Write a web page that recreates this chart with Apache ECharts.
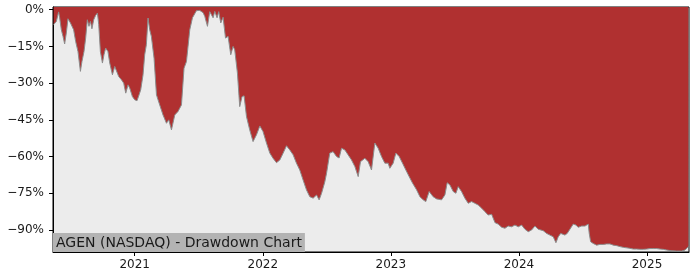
<!DOCTYPE html>
<html>
<head>
<meta charset="utf-8">
<script src="https://cdn.jsdelivr.net/npm/echarts@6/dist/echarts.min.js"></script>
<style>
html,body{margin:0;padding:0;background:#fff;}
#c{width:700px;height:280px;}
</style>
</head>
<body>
<div id="c"></div>
<script>
// Dates as decimal years
const dates = [
2020.367,2020.388,2020.406,2020.414,2020.427,2020.440,2020.453,2020.466,2020.479,2020.498,
2020.513,2020.523,2020.539,2020.557,2020.576,2020.588,2020.604,2020.617,2020.630,2020.643,
2020.654,2020.666,2020.680,2020.695,2020.709,2020.719,2020.732,2020.748,2020.760,2020.773,
2020.791,2020.805,2020.826,2020.844,2020.857,2020.875,2020.896,2020.914,2020.930,2020.948,
2020.961,2020.982,2021.000,2021.018,2021.034,2021.047,2021.065,2021.078,2021.091,2021.104,
2021.117,2021.130,2021.151,2021.170,2021.182,2021.195,2021.221,2021.248,2021.266,2021.287,
2021.295,2021.313,2021.338,2021.365,2021.385,2021.404,2021.416,2021.430,2021.451,2021.482,
2021.508,2021.534,2021.547,2021.568,2021.586,2021.612,2021.625,2021.643,2021.656,2021.672,
2021.690,2021.709,2021.729,2021.750,2021.768,2021.781,2021.802,2021.820,2021.838,2021.854,
2021.873,2021.898,2021.924,2021.951,2021.977,2022.002,2022.029,2022.055,2022.080,2022.107,
2022.133,2022.159,2022.185,2022.211,2022.237,2022.263,2022.289,2022.315,2022.341,2022.367,
2022.393,2022.420,2022.440,2022.459,2022.484,2022.498,2022.523,2022.549,2022.576,2022.596,
2022.615,2022.641,2022.666,2022.693,2022.719,2022.745,2022.763,2022.797,2022.823,2022.849,
2022.875,2022.901,2022.927,2022.953,2022.979,2022.992,2023.018,2023.039,2023.065,2023.091,
2023.117,2023.143,2023.170,2023.201,2023.227,2023.252,2023.273,2023.299,2023.330,2023.357,
2023.396,2023.422,2023.440,2023.461,2023.487,2023.508,2023.526,2023.552,2023.578,2023.604,
2023.630,2023.656,2023.682,2023.709,2023.734,2023.760,2023.787,2023.813,2023.838,2023.865,
2023.891,2023.916,2023.943,2023.969,2023.995,2024.021,2024.047,2024.073,2024.099,2024.125,
2024.151,2024.164,2024.190,2024.216,2024.242,2024.268,2024.289,2024.307,2024.326,2024.341,
2024.359,2024.377,2024.398,2024.424,2024.445,2024.463,2024.490,2024.516,2024.541,2024.549,
2024.560,2024.580,2024.607,2024.633,2024.659,2024.685,2024.711,2024.737,2024.763,2024.789,
2024.815,2024.841,2024.867,2024.893,2024.920,2024.945,2024.971,2024.998,2025.023,2025.049,
2025.076,2025.102,2025.127,2025.154,2025.193,2025.232,2025.271,2025.297,2025.310,2025.323
];
// Drawdown in percent
const drawdown = [
-6.1,-4.8,-0.9,-3.3,-8.2,-10.9,-14.0,-9.5,-3.7,-5.4,
-5.9,-8.2,-13.0,-17.1,-25.2,-21.2,-17.1,-11.6,-4.1,-6.8,
-4.8,-7.8,-4.1,-2.3,-1.4,-6.1,-17.1,-21.8,-18.4,-15.7,
-17.1,-21.8,-26.6,-23.2,-23.9,-27.3,-28.6,-30.0,-34.1,-30.7,
-32.0,-35.5,-36.8,-37.2,-34.8,-32.7,-26.6,-18.4,-14.3,-3.4,
-8.2,-10.9,-19.8,-34.8,-36.8,-37.5,-43.0,-46.4,-45.0,-49.1,
-49.5,-43.0,-41.6,-38.9,-23.9,-21.2,-20.5,-8.2,-3.3,-0.4,
-0.3,-1.2,-2.7,-6.8,-0.8,-3.3,-0.7,-3.3,-0.8,-5.4,
-3.1,-11.6,-10.9,-18.4,-15.0,-16.4,-25.9,-39.6,-35.5,-35.2,
-43.7,-49.1,-53.9,-51.1,-47.5,-49.8,-54.5,-58.6,-60.7,-62.5,
-61.4,-58.6,-55.6,-57.3,-59.3,-62.7,-65.5,-69.6,-73.6,-76.4,
-77.0,-75.7,-77.7,-75.0,-70.4,-66.8,-58.6,-58.0,-60.0,-60.6,
-56.6,-57.3,-59.3,-61.4,-64.1,-68.2,-62.1,-60.7,-62.1,-65.5,
-54.5,-56.6,-60.0,-62.7,-62.7,-64.8,-62.7,-58.6,-60.0,-62.7,
-65.5,-68.2,-70.9,-73.6,-76.4,-77.7,-78.4,-74.3,-76.4,-77.3,
-77.7,-75.7,-70.7,-71.6,-74.3,-75.0,-72.3,-74.3,-77.0,-79.1,
-78.4,-79.1,-79.8,-81.1,-82.5,-83.9,-83.6,-87.0,-87.6,-88.9,
-89.3,-88.4,-88.7,-88.0,-88.7,-88.0,-89.7,-90.7,-90.0,-88.4,
-89.7,-89.7,-90.3,-91.4,-92.1,-92.8,-95.2,-92.8,-91.4,-90.7,
-92.1,-91.4,-89.7,-87.6,-88.0,-88.9,-88.4,-88.4,-87.6,-91.4,
-94.8,-95.5,-96.2,-95.9,-95.9,-95.7,-95.7,-96.2,-96.4,-96.8,
-97.1,-97.3,-97.5,-97.8,-97.8,-97.9,-97.9,-97.8,-97.6,-97.6,
-97.6,-97.8,-97.9,-98.2,-98.5,-98.6,-98.6,-98.2,-97.5,-96.8
];
const yTicks = [0, -15, -30, -45, -60, -75, -90];
const xTickYears = [2021, 2022, 2023, 2024, 2025];
const titleText = 'AGEN (NASDAQ) - Drawdown Chart';

const seriesData = dates.map((d, i) => [d, drawdown[i]]);

const FONT = 'DejaVu Sans';
const chart = echarts.init(document.getElementById('c'), null, {renderer: 'canvas'});
chart.setOption({
  animation: false,
  backgroundColor: '#ffffff',
  title: {
    text: titleText,
    left: 53, top: 233,
    padding: [3, 3, 2, 3],
    backgroundColor: '#b3b3b3',
    textStyle: {fontFamily: FONT, fontSize: 14, fontWeight: 'normal', color: '#1a1a1a', lineHeight: 14}
  },
  grid: {
    left: 53, right: 11, top: 7, bottom: 28,
    show: true, backgroundColor: '#ececec', borderColor: '#000', borderWidth: 1
  },
  xAxis: {
    type: 'value',
    min: 2020.362,
    max: 2025.328,
    splitLine: {show: false},
    axisLine: {show: true, onZero: false, lineStyle: {color: '#000', width: 1}},
    axisTick: {show: true, length: 4, lineStyle: {color: '#000'}, customValues: xTickYears},
    axisLabel: {
      customValues: xTickYears,
      margin: 7,
      fontFamily: FONT, fontSize: 12, color: '#1a1a1a',
      formatter: v => String(Math.round(v))
    }
  },
  yAxis: {
    type: 'value',
    min: -99,
    max: 1.1,
    splitLine: {show: false},
    axisLine: {show: true, lineStyle: {color: '#000', width: 1}},
    axisTick: {show: true, length: 4, lineStyle: {color: '#000'}, customValues: yTicks},
    axisLabel: {
      customValues: yTicks,
      margin: 9,
      fontFamily: FONT, fontSize: 12, color: '#1a1a1a',
      formatter: v => (v < 0 ? '\u2212' : '') + Math.abs(v) + '%'
    }
  },
  series: [{
    type: 'line',
    data: seriesData,
    showSymbol: false,
    symbol: 'none',
    lineStyle: {color: '#8c8c8c', width: 1},
    areaStyle: {color: '#b03030', opacity: 1, origin: 'end'},
    z: 2
  }]
});
</script>
</body>
</html>
